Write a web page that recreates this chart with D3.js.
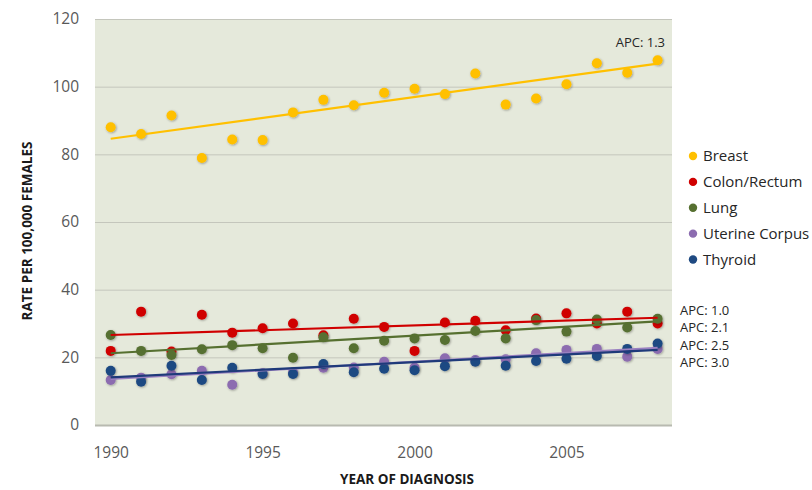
<!DOCTYPE html>
<html>
<head>
<meta charset="utf-8">
<script src="https://cdn.jsdelivr.net/npm/d3@7"></script>
<style>
  body { margin: 0; background: #fff; }
  svg text { font-family: "Open Sans", "DejaVu Sans", sans-serif; }
</style>
</head>
<body>
<div id="container"></div>
<script>
const width = 812;
const height = 490;

// data
const years = [1990, 1991, 1992, 1993, 1994, 1995, 1996, 1997, 1998, 1999,
    2000, 2001, 2002, 2003, 2004, 2005, 2006, 2007, 2008];
const seriesNames = ['Breast', 'Colon/Rectum', 'Lung', 'Uterine Corpus', 'Thyroid'];
const breast = [88.0, 86.0, 91.5, 78.9, 84.4, 84.2, 92.4, 96.1, 94.5, 98.2,
    99.4, 97.8, 103.9, 94.7, 96.5, 100.7, 106.9, 104.1, 107.8];
const colon = [21.9, 33.5, 21.7, 32.6, 27.3, 28.6, 30.0, 26.5, 31.4, 29.0,
    21.9, 30.3, 30.8, 28.0, 31.5, 33.0, 30.0, 33.5, 30.0];
const lung = [26.6, 21.9, 20.7, 22.4, 23.6, 22.7, 19.9, 25.9, 22.7, 24.9,
    25.6, 25.1, 27.8, 25.6, 31.0, 27.6, 31.2, 28.8, 31.4];
const uterine = [13.3, 14.0, 15.0, 16.0, 11.9, 15.3, 15.6, 16.9, 17.0, 18.7,
    17.0, 19.7, 19.2, 19.4, 21.2, 22.2, 22.5, 20.2, 22.5];
const thyroid = [16.0, 12.8, 17.5, 13.3, 16.9, 15.1, 15.1, 18.0, 15.6, 16.6,
    16.2, 17.4, 18.7, 17.5, 18.9, 19.6, 20.4, 22.5, 24.1];
// fitted trend lines: value at 1990 and at 2008
const trendStart = [84.6, 26.6, 21.2, 13.6, 14.1];
const trendEnd = [106.8, 31.7, 30.6, 22.8, 22.2];
const apcLabels = ['APC: 1.3', 'APC: 1.0', 'APC: 2.1', 'APC: 2.5', 'APC: 3.0'];
const yTicks = [0, 20, 40, 60, 80, 100, 120];
const xTicks = [1990, 1995, 2000, 2005];

const colors = ['#ffc000', '#d00000', '#567030', '#8c6cb0', '#1f4a82'];
const lineColors = ['#ffc000', '#d00000', '#567030', '#9a80c0', '#1f3a7a'];
const values = [breast, colon, lung, uterine, thyroid];

const plot = { left: 95, right: 672, top: 19, bottom: 425 };

const svg = d3.select('#container').append('svg')
    .attr('width', width)
    .attr('height', height);

const x = d3.scaleLinear().domain([1990, 2008]).range([110.7, 657.6]);
const y = d3.scaleLinear().domain([0, 120]).range([plot.bottom, plot.top]);

// plot background
svg.append('rect')
    .attr('x', plot.left)
    .attr('y', plot.top)
    .attr('width', plot.right - plot.left)
    .attr('height', plot.bottom - plot.top)
    .attr('fill', '#e5e9db');

// gridlines + y labels
const yAxis = svg.append('g')
    .attr('transform', `translate(${plot.left},0)`)
    .call(d3.axisLeft(y).tickValues(yTicks).tickSize(-(plot.right - plot.left)).tickPadding(16));
yAxis.select('.domain').remove();
yAxis.selectAll('.tick line').attr('stroke', '#c4c6bc').attr('stroke-width', 1);
yAxis.selectAll('.tick text')
    .attr('fill', '#595959')
    .style('font-size', '15.5px');

// bottom edge
svg.append('line')
    .attr('x1', plot.left).attr('x2', plot.right)
    .attr('y1', plot.bottom + 0.5).attr('y2', plot.bottom + 0.5)
    .attr('stroke', '#b8bab0').attr('stroke-width', 2);

const xAxis = svg.append('g')
    .attr('transform', `translate(0,${plot.bottom})`)
    .call(d3.axisBottom(x).tickValues(xTicks).tickFormat(d3.format('d')).tickSize(0).tickPadding(22));
xAxis.select('.domain').remove();
xAxis.selectAll('.tick text')
    .attr('fill', '#595959')
    .style('font-size', '15.5px');

// axis titles
svg.append('text')
    .attr('transform', 'translate(32,231) rotate(-90)')
    .attr('text-anchor', 'middle')
    .attr('fill', '#1a1a1a')
    .style('font-size', '13.5px')
    .style('font-weight', 'bold')
    .text('RATE PER 100,000 FEMALES');

svg.append('text')
    .attr('x', 407)
    .attr('y', 484)
    .attr('text-anchor', 'middle')
    .attr('fill', '#1a1a1a')
    .style('font-size', '13.5px')
    .style('font-weight', 'bold')
    .text('YEAR OF DIAGNOSIS');

// points
const defs = svg.append('defs');
defs.append('filter').attr('id', 'shadow')
    .attr('x', '-50%').attr('y', '-50%').attr('width', '200%').attr('height', '200%')
    .append('feDropShadow')
    .attr('dx', 0.8).attr('dy', 0.8).attr('stdDeviation', 0.8)
    .attr('flood-color', '#000').attr('flood-opacity', 0.35);

values.forEach((vals, i) => {
    svg.append('g')
        .selectAll('circle')
        .data(vals)
        .join('circle')
        .attr('cx', (d, j) => x(years[j]))
        .attr('cy', d => y(d))
        .attr('r', 5)
        .attr('fill', colors[i])
        .attr('filter', 'url(#shadow)');
});

// trend lines
const line = d3.line().x(d => x(d[0])).y(d => y(d[1]));
trendStart.forEach((s, i) => {
    svg.append('path')
        .datum([[years[0], s], [years[years.length - 1], trendEnd[i]]])
        .attr('d', line)
        .attr('fill', 'none')
        .attr('stroke', lineColors[i])
        .attr('stroke-width', 2.2);
});

// APC labels
svg.append('text')
    .attr('x', 665)
    .attr('y', 47)
    .attr('text-anchor', 'end')
    .attr('fill', '#262626')
    .style('font-size', '13px')
    .text(apcLabels[0]);

const apcY = d3.scalePoint().domain(apcLabels.slice(1)).range([315, 367]);
svg.append('g')
    .selectAll('text')
    .data(apcLabels.slice(1))
    .join('text')
    .attr('x', 680)
    .attr('y', d => apcY(d))
    .attr('fill', '#262626')
    .style('font-size', '13px')
    .text(d => d);

// legend
const legY = d3.scalePoint().domain(seriesNames).range([156, 259.5]);
const legend = svg.append('g');
legend.selectAll('circle')
    .data(seriesNames)
    .join('circle')
    .attr('cx', 693)
    .attr('cy', d => legY(d))
    .attr('r', 4.2)
    .attr('fill', (d, i) => colors[i]);
legend.selectAll('text')
    .data(seriesNames)
    .join('text')
    .attr('x', 703)
    .attr('y', d => legY(d) + 5)
    .attr('fill', '#262626')
    .style('font-size', '15px')
    .text(d => d);
</script>
</body>
</html>
